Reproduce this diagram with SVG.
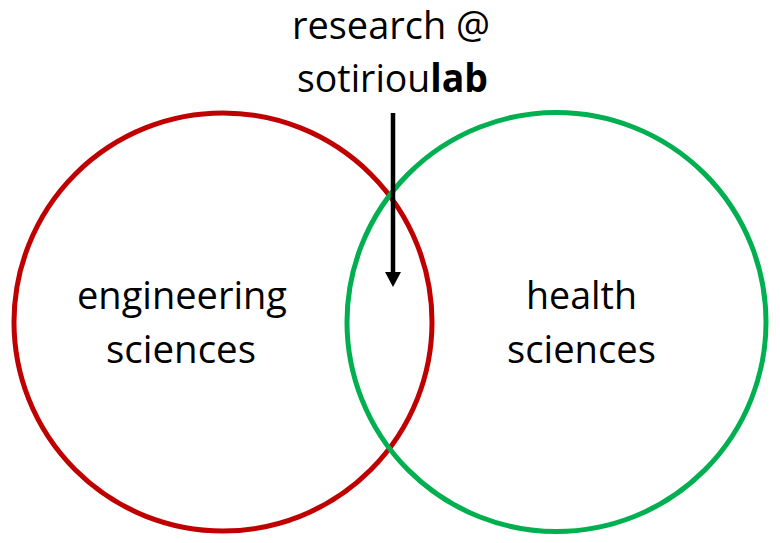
<svg xmlns="http://www.w3.org/2000/svg" width="780" height="543" viewBox="0 0 780 543">
<style>
  .lbl { font-family: "Open Sans", "Liberation Sans", sans-serif; font-size: 39px; fill: #000; text-anchor: middle; }
  .ring { fill: none; stroke-width: 5; }
</style>
<rect width="780" height="543" fill="#fff"/>
<g id="engineering">
  <circle class="ring" cx="223" cy="322" r="209" stroke="#C00000"/>
  <text class="lbl" x="182" y="309" textLength="210" lengthAdjust="spacingAndGlyphs">engineering</text>
  <text class="lbl" x="181" y="363" textLength="150" lengthAdjust="spacingAndGlyphs">sciences</text>
</g>
<g id="health">
  <circle class="ring" cx="556.5" cy="322" r="209.5" stroke="#00B050"/>
  <text class="lbl" x="581.5" y="309" textLength="111" lengthAdjust="spacingAndGlyphs">health</text>
  <text class="lbl" x="581.5" y="363" textLength="149" lengthAdjust="spacingAndGlyphs">sciences</text>
</g>
<g id="title">
  <text class="lbl" x="391" y="39" textLength="198" lengthAdjust="spacingAndGlyphs">research @</text>
  <text class="lbl" x="392.5" y="92" textLength="191" lengthAdjust="spacingAndGlyphs">sotiriou<tspan font-weight="bold">lab</tspan></text>
</g>
<g id="connectors">
  <line x1="393" y1="113" x2="393" y2="275" stroke="#000" stroke-width="4.5"/>
  <polygon points="385,272 401,272 393,287" fill="#000"/>
</g>
</svg>
